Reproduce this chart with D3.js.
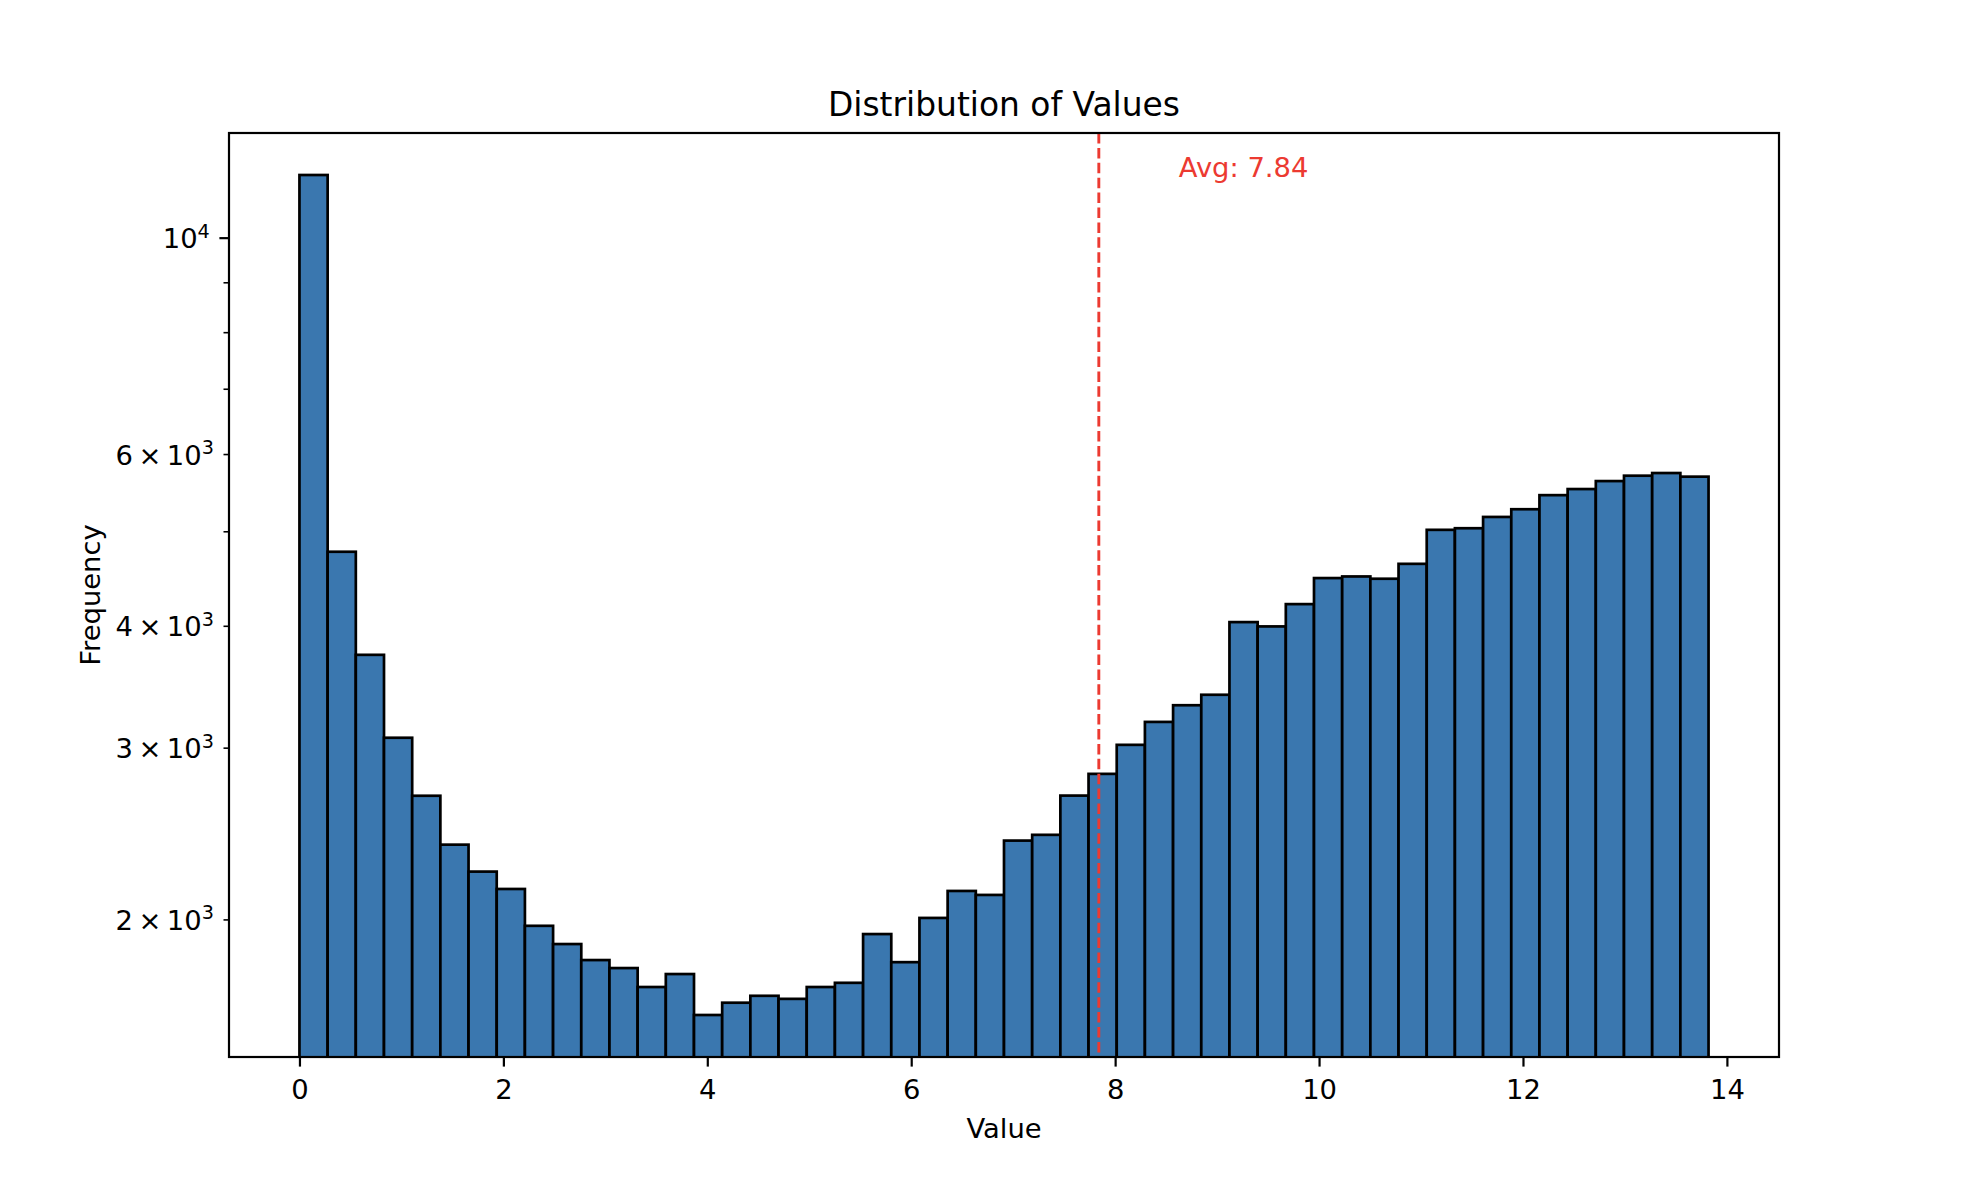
<!DOCTYPE html>
<html>
<head>
<meta charset="utf-8">
<script src="https://cdn.jsdelivr.net/npm/d3@7"></script>
<style>
  html, body { margin: 0; padding: 0; background: #ffffff; }
  svg { display: block; font-family: "DejaVu Sans", sans-serif; }
</style>
</head>
<body>
<svg id="chart" width="1969" height="1184"></svg>
<script>
// ---- data ----
const binMin = 0;
const binMax = 13.82;
const counts = [
  11594, 4764, 3735, 3071, 2678, 2386, 2239, 2149, 1970, 1887,
  1817, 1783, 1705, 1758, 1596, 1643, 1670, 1658, 1705, 1722,
  1932, 1808, 2007, 2139, 2119, 2409, 2442, 2679, 2820, 3020,
  3188, 3316, 3399, 4035, 3994, 4210, 4477, 4494, 4470, 4630,
  5017, 5036, 5172, 5267, 5445, 5524, 5629, 5701, 5737, 5688
];
const avgValue = 7.84;
const avgLabel = "Avg: 7.84";
const avgLabelX = avgValue * 1.1;
const avgLabelY = 11530;
const xTicks = [0, 2, 4, 6, 8, 10, 12, 14];
const yMajorTicks = [10000];
const yMinorTicks = [2000, 3000, 4000, 5000, 6000, 7000, 8000, 9000];
const yMinorLabelled = [2000, 3000, 4000, 6000];
const titleText = "Distribution of Values";
const xLabelText = "Value";
const yLabelText = "Frequency";

// ---- layout ----
const W = 1969, H = 1184;
const plot = { left: 229, right: 1779, top: 133, bottom: 1057 };
const barFill = "#3a77af";
const redColor = "#ec3a31";
const fontTick = 27.4;

const svg = d3.select("#chart");
svg.append("rect").attr("width", W).attr("height", H).attr("fill", "#fff");

// bins
const nBins = counts.length;
const binW = (binMax - binMin) / nBins;
const bins = counts.map((c, i) => ({ x0: binMin + i * binW, x1: binMin + (i + 1) * binW, c }));

// scales with matplotlib-like 5% margins
const xSpan = binMax - binMin;
const x = d3.scaleLinear()
  .domain([binMin - 0.05 * xSpan, binMax + 0.05 * xSpan])
  .range([plot.left, plot.right]);
const lmin = Math.log10(d3.min(counts)), lmax = Math.log10(d3.max(counts));
const lpad = 0.05 * (lmax - lmin);
const y = d3.scaleLog()
  .domain([Math.pow(10, lmin - lpad), Math.pow(10, lmax + lpad)])
  .range([plot.bottom, plot.top]);

// clip
svg.append("defs").append("clipPath").attr("id", "clip")
  .append("rect").attr("x", plot.left).attr("y", plot.top)
  .attr("width", plot.right - plot.left).attr("height", plot.bottom - plot.top);

const g = svg.append("g").attr("clip-path", "url(#clip)");

g.selectAll("rect.bar").data(bins).enter().append("rect")
  .attr("class", "bar")
  .attr("x", d => x(d.x0))
  .attr("width", d => x(d.x1) - x(d.x0))
  .attr("y", d => y(d.c))
  .attr("height", d => plot.bottom + 5 - y(d.c))
  .attr("fill", barFill)
  .attr("stroke", "#000")
  .attr("stroke-width", 2.7);

// average line
g.append("line")
  .attr("x1", x(avgValue)).attr("x2", x(avgValue))
  .attr("y1", plot.top).attr("y2", plot.bottom)
  .attr("stroke", redColor).attr("stroke-width", 2.9)
  .attr("stroke-dasharray", "10.5,4.4");

// avg label
svg.append("text")
  .attr("x", x(avgLabelX)).attr("y", y(avgLabelY))
  .attr("font-size", fontTick).attr("fill", redColor)
  .text(avgLabel);

// spines
svg.append("rect")
  .attr("x", plot.left).attr("y", plot.top)
  .attr("width", plot.right - plot.left).attr("height", plot.bottom - plot.top)
  .attr("fill", "none").attr("stroke", "#000").attr("stroke-width", 2.2);

// x axis
const xAxis = d3.axisBottom(x).tickValues(xTicks).tickSize(9.6).tickPadding(0).tickFormat(d3.format("d"));
const xg = svg.append("g").attr("transform", `translate(0,${plot.bottom})`).call(xAxis);
xg.select(".domain").remove();
xg.selectAll(".tick line").attr("stroke", "#000").attr("stroke-width", 2.2);
xg.selectAll(".tick text").attr("font-size", fontTick).attr("font-family", "DejaVu Sans")
  .attr("fill", "#000").attr("y", 41.5).attr("dy", null);

// y axis major
const yMajAxis = d3.axisLeft(y).tickValues(yMajorTicks).tickSize(9.6).tickFormat("");
const ymg = svg.append("g").attr("transform", `translate(${plot.left},0)`).call(yMajAxis);
ymg.select(".domain").remove();
ymg.selectAll(".tick line").attr("stroke", "#000").attr("stroke-width", 2.2);

// y axis minor
const yMinAxis = d3.axisLeft(y).tickValues(yMinorTicks).tickSize(5.5).tickFormat("");
const ymin = svg.append("g").attr("transform", `translate(${plot.left},0)`).call(yMinAxis);
ymin.select(".domain").remove();
ymin.selectAll(".tick line").attr("stroke", "#000").attr("stroke-width", 1.6);

// y tick labels (mathtext style)
function sciLabel(sel, v, xRight) {
  const exp = Math.floor(Math.log10(v) + 1e-9);
  const mant = Math.round(v / Math.pow(10, exp));
  const t = sel.append("text")
    .attr("x", xRight).attr("y", y(v) + 10.5)
    .attr("text-anchor", "end")
    .attr("font-size", fontTick).attr("fill", "#000");
  if (mant !== 1) {
    t.append("tspan").text(mant + "\u2009\u00d7\u2009" + "10");
  } else {
    t.append("tspan").text("10");
  }
  t.append("tspan").attr("dy", -10.5).attr("font-size", 19.2).text(String(exp));
}
const labG = svg.append("g");
yMajorTicks.forEach(v => sciLabel(labG, v, plot.left - 9.6 - 9.6));
yMinorLabelled.forEach(v => sciLabel(labG, v, plot.left - 5.5 - 9.6));

// title and labels
svg.append("text")
  .attr("x", (plot.left + plot.right) / 2).attr("y", 116)
  .attr("text-anchor", "middle").attr("font-size", 32.9).attr("fill", "#000")
  .text(titleText);
svg.append("text")
  .attr("x", (plot.left + plot.right) / 2).attr("y", 1137.5)
  .attr("text-anchor", "middle").attr("font-size", fontTick).attr("fill", "#000")
  .text(xLabelText);
svg.append("text")
  .attr("transform", `translate(99.5,${(plot.top + plot.bottom) / 2}) rotate(-90)`)
  .attr("text-anchor", "middle").attr("font-size", fontTick).attr("fill", "#000")
  .text(yLabelText);
</script>
</body>
</html>
